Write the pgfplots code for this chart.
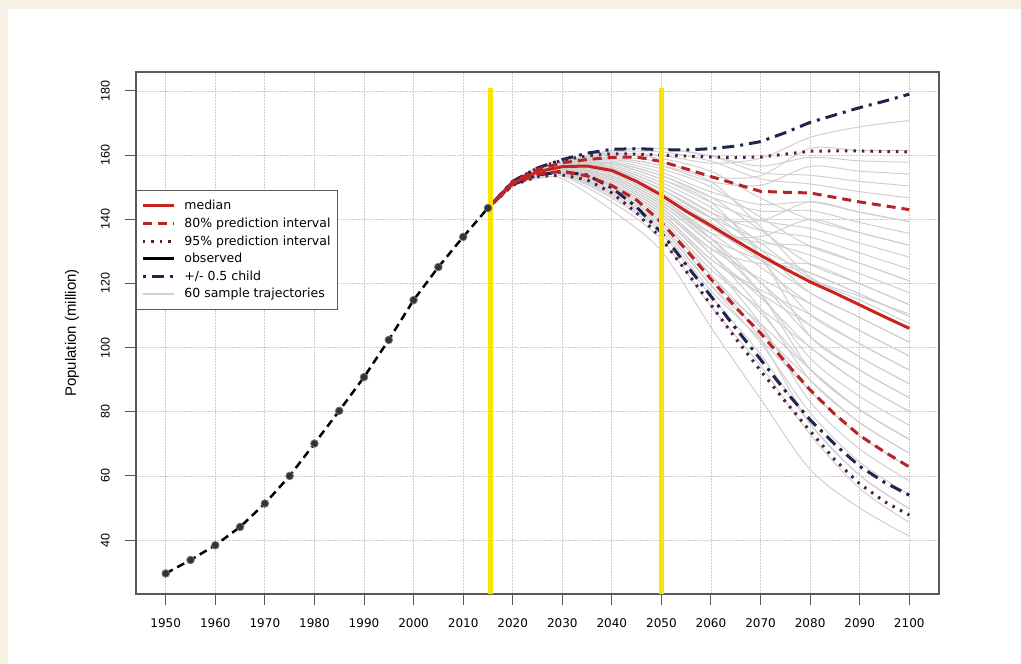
\documentclass[border=0pt]{standalone}
\usepackage{fontspec}
\setmainfont{DejaVu Sans}
\newfontfamily\arialfont{Liberation Sans}
\usepackage{pgfplots}
\pgfplotsset{compat=1.18}
\definecolor{cream}{RGB}{246,241,226}
\definecolor{medred}{RGB}{200,35,30}
\definecolor{dashred}{RGB}{185,35,40}
\definecolor{dotpurple}{RGB}{85,30,70}
\definecolor{navyc}{RGB}{35,35,80}
\definecolor{trajgray}{RGB}{208,208,208}
\definecolor{yel}{RGB}{248,228,0}
\definecolor{framegray}{RGB}{90,90,90}
\begin{document}
\begin{tikzpicture}[x=1pt,y=1pt]
\fill[cream] (0,0) rectangle (1021,664);
\fill[white] (8,0) rectangle (1021,655);
\begin{axis}[
  at={(136pt,70pt)}, anchor=south west,
  scale only axis, width=803pt, height=522pt,
  xmin=1944, xmax=2106, ymin=23.2, ymax=185.9,
  xtick={1950,1960,...,2100}, ytick={40,60,...,180},
  tick pos=left, tick align=outside, major tick length=11pt,
  every tick/.style={framegray, line width=1pt},
  axis line style={framegray, line width=1.3pt},
  grid=major,
  major grid style={draw=black!20, line width=0.8pt, dash pattern=on 1.5pt off 1.5pt},
  /pgf/number format/assume math mode=true,
  xticklabel shift=13pt,
  yticklabel shift=15pt,
  xticklabel style={/pgf/number format/1000 sep={}, font=\fontsize{12}{14}\selectfont, anchor=north, inner sep=0pt},
  yticklabel style={font=\arialfont\fontsize{12.5}{14}\selectfont, rotate=90, anchor=south, inner sep=0pt},
  ylabel={Population (million)},
  ylabel style={at={(axis description cs:-0.0797,0.5)}, anchor=center, font=\arialfont\fontsize{15}{17}\selectfont},
  legend cell align=left,
  legend image code/.code={\draw[#1] (0pt,0pt) -- (31pt,0pt);},
  legend style={at={(0,0.774)}, anchor=north west, draw=framegray, line width=0.8pt, fill=white,
    font=\fontsize{12.5}{14}\selectfont, inner xsep=5pt, inner ysep=8pt, row sep=2.6pt, column sep=7pt},
]
% legend
\addlegendimage{medred, line width=3pt}
\addlegendentry{median}
\addlegendimage{dashred, line width=3pt, dash pattern=on 9pt off 6pt}
\addlegendentry{80\% prediction interval}
\addlegendimage{dotpurple, line width=3pt, dash pattern=on 2.5pt off 6pt}
\addlegendentry{95\% prediction interval}
\addlegendimage{black, line width=3pt}
\addlegendentry{observed}
\addlegendimage{navyc, line width=3pt, dash pattern=on 3pt off 6pt on 12pt off 6pt}
\addlegendentry{+/- 0.5 child}
\addlegendimage{trajgray, line width=2pt}
\addlegendentry{60 sample trajectories}

% sample trajectories
\pgfplotsset{traj/.style={trajgray, line width=1pt, smooth, forget plot}}
\addplot[traj] coordinates {(2015,143.5)(2020,151.9)(2025,155.4)(2030,157.8)(2040,160.4)(2050,159.9)(2060,157.5)(2070,159.0)(2080,165.5)(2090,168.8)(2100,170.8)};
\addplot[traj] coordinates {(2015,143.5)(2020,152.0)(2025,155.5)(2030,157.8)(2040,160.9)(2050,161.0)(2060,158.1)(2070,152.6)(2080,151.0)(2090,148.6)(2100,146.7)};
\addplot[traj] coordinates {(2015,143.5)(2020,151.7)(2025,155.2)(2030,157.4)(2040,159.0)(2050,156.7)(2060,151.7)(2070,150.6)(2080,156.5)(2090,155.0)(2100,154.1)};
\addplot[traj] coordinates {(2015,143.5)(2020,151.8)(2025,155.4)(2030,157.6)(2040,160.0)(2050,158.9)(2060,154.9)(2070,146.6)(2080,139.9)(2090,135.8)(2100,131.9)};
\addplot[traj] coordinates {(2015,143.5)(2020,151.7)(2025,155.1)(2030,157.2)(2040,158.1)(2050,154.6)(2060,148.5)(2070,144.6)(2080,145.4)(2090,142.2)(2100,139.3)};
\addplot[traj] coordinates {(2015,143.5)(2020,151.6)(2025,154.9)(2030,157.0)(2040,157.2)(2050,152.5)(2060,145.3)(2070,139.6)(2080,137.1)(2090,132.6)(2100,128.2)};
\addplot[traj] coordinates {(2015,143.5)(2020,151.7)(2025,155.1)(2030,157.3)(2040,158.6)(2050,155.7)(2060,150.1)(2070,140.6)(2080,131.6)(2090,126.3)(2100,120.8)};
\addplot[traj] coordinates {(2015,143.5)(2020,151.5)(2025,154.7)(2030,156.8)(2040,156.2)(2050,150.4)(2060,142.1)(2070,136.6)(2080,134.4)(2090,129.5)(2100,124.5)};
\addplot[traj] coordinates {(2015,143.5)(2020,151.6)(2025,155.0)(2030,157.1)(2040,157.6)(2050,153.6)(2060,146.9)(2070,136.6)(2080,126.0)(2090,119.9)(2100,113.4)};
\addplot[traj] coordinates {(2015,143.5)(2020,151.4)(2025,154.7)(2030,156.7)(2040,155.7)(2050,149.3)(2060,140.5)(2070,133.6)(2080,128.8)(2090,123.1)(2100,117.1)};
\addplot[traj] coordinates {(2015,143.5)(2020,151.5)(2025,154.8)(2030,156.9)(2040,156.7)(2050,151.4)(2060,143.7)(2070,132.6)(2080,121.5)(2090,114.8)(2100,107.5)};
\addplot[traj] coordinates {(2015,143.5)(2020,151.4)(2025,154.6)(2030,156.6)(2040,155.3)(2050,148.3)(2060,138.9)(2070,130.6)(2080,123.3)(2090,116.7)(2100,109.7)};
\addplot[traj] coordinates {(2015,143.5)(2020,151.3)(2025,154.5)(2030,156.5)(2040,154.8)(2050,147.2)(2060,137.3)(2070,127.4)(2080,117.1)(2090,109.4)(2100,101.7)};
\addplot[traj] coordinates {(2015,143.5)(2020,151.2)(2025,154.3)(2030,156.1)(2040,153.5)(2050,145.4)(2060,134.0)(2070,127.4)(2080,123.3)(2090,116.7)(2100,109.7)};
\addplot[traj] coordinates {(2015,143.5)(2020,151.4)(2025,154.7)(2030,156.7)(2040,155.7)(2050,149.3)(2060,140.5)(2070,127.4)(2080,110.3)(2090,101.2)(2100,93.0)};
\addplot[traj] coordinates {(2015,143.5)(2020,151.3)(2025,154.4)(2030,156.3)(2040,154.2)(2050,146.3)(2060,135.7)(2070,125.1)(2080,113.7)(2090,105.3)(2100,97.4)};
\addplot[traj] coordinates {(2015,143.5)(2020,151.2)(2025,154.2)(2030,155.9)(2040,152.9)(2050,144.5)(2060,132.4)(2070,120.3)(2080,106.9)(2090,97.1)(2100,88.7)};
\addplot[traj] coordinates {(2015,143.5)(2020,151.1)(2025,154.1)(2030,155.7)(2040,152.3)(2050,143.6)(2060,130.8)(2070,121.5)(2080,113.7)(2090,105.3)(2100,97.4)};
\addplot[traj] coordinates {(2015,143.5)(2020,151.2)(2025,154.3)(2030,156.1)(2040,153.5)(2050,145.4)(2060,134.0)(2070,120.3)(2080,103.5)(2090,93.0)(2100,84.4)};
\addplot[traj] coordinates {(2015,143.5)(2020,151.1)(2025,154.0)(2030,155.5)(2040,151.7)(2050,142.7)(2060,129.2)(2070,115.6)(2080,100.1)(2090,88.9)(2100,80.1)};
\addplot[traj] coordinates {(2015,143.5)(2020,151.0)(2025,153.9)(2030,155.3)(2040,151.0)(2050,141.8)(2060,127.5)(2070,116.8)(2080,106.9)(2090,97.1)(2100,88.7)};
\addplot[traj] coordinates {(2015,143.5)(2020,151.2)(2025,154.2)(2030,155.9)(2040,152.9)(2050,144.5)(2060,132.4)(2070,116.8)(2080,96.7)(2090,84.8)(2100,75.8)};
\addplot[traj] coordinates {(2015,143.5)(2020,151.0)(2025,153.8)(2030,155.1)(2040,150.4)(2050,140.9)(2060,125.9)(2070,110.9)(2080,93.3)(2090,80.7)(2100,71.4)};
\addplot[traj] coordinates {(2015,143.5)(2020,150.9)(2025,153.7)(2030,154.9)(2040,149.8)(2050,140.0)(2060,124.3)(2070,112.1)(2080,100.1)(2090,88.9)(2100,80.1)};
\addplot[traj] coordinates {(2015,143.5)(2020,151.1)(2025,154.0)(2030,155.5)(2040,151.7)(2050,142.7)(2060,129.2)(2070,112.1)(2080,89.9)(2090,76.6)(2100,67.1)};
\addplot[traj] coordinates {(2015,143.5)(2020,150.9)(2025,153.6)(2030,154.7)(2040,149.1)(2050,139.1)(2060,122.6)(2070,106.2)(2080,86.5)(2090,72.5)(2100,62.8)};
\addplot[traj] coordinates {(2015,143.5)(2020,150.8)(2025,153.5)(2030,154.5)(2040,148.5)(2050,138.2)(2060,121.0)(2070,107.4)(2080,93.3)(2090,80.7)(2100,71.4)};
\addplot[traj] coordinates {(2015,143.5)(2020,151.0)(2025,153.8)(2030,155.1)(2040,150.4)(2050,140.9)(2060,125.9)(2070,107.4)(2080,83.1)(2090,68.4)(2100,58.5)};
\addplot[traj] coordinates {(2015,143.5)(2020,150.8)(2025,153.4)(2030,154.3)(2040,147.9)(2050,137.3)(2060,119.4)(2070,101.5)(2080,79.7)(2090,64.3)(2100,54.2)};
\addplot[traj] coordinates {(2015,143.5)(2020,150.7)(2025,153.3)(2030,154.1)(2040,147.2)(2050,136.4)(2060,117.7)(2070,102.6)(2080,86.5)(2090,72.5)(2100,62.8)};
\addplot[traj] coordinates {(2015,143.5)(2020,150.7)(2025,153.2)(2030,153.9)(2040,146.6)(2050,135.5)(2060,116.1)(2070,97.9)(2080,76.3)(2090,60.2)(2100,49.8)};
\addplot[traj] coordinates {(2015,143.5)(2020,150.6)(2025,153.0)(2030,153.5)(2040,145.4)(2050,133.7)(2060,112.8)(2070,94.4)(2080,72.9)(2090,56.1)(2100,45.5)};
\addplot[traj] coordinates {(2015,143.5)(2020,150.4)(2025,152.6)(2030,152.7)(2040,142.8)(2050,130.1)(2060,106.3)(2070,84.0)(2080,62.0)(2090,50.0)(2100,41.2)};
\addplot[traj] coordinates {(2015,143.5)(2020,151.8)(2025,155.3)(2030,157.5)(2040,159.5)(2050,157.8)(2060,153.3)(2070,153.6)(2080,162.1)(2090,161.4)(2100,161.5)};
\addplot[traj] coordinates {(2015,143.5)(2020,152.0)(2025,155.6)(2030,157.9)(2040,161.4)(2050,162.0)(2060,159.7)(2070,156.6)(2080,159.3)(2090,158.2)(2100,157.8)};
\addplot[traj] coordinates {(2015,143.5)(2020,151.3)(2025,154.5)(2030,156.5)(2040,154.8)(2050,147.2)(2060,137.3)(2070,132.6)(2080,131.6)(2090,126.3)(2100,120.8)};
\addplot[traj] coordinates {(2015,143.5)(2020,151.3)(2025,154.4)(2030,156.3)(2040,154.2)(2050,146.3)(2060,135.7)(2070,134.6)(2080,139.9)(2090,135.8)(2100,131.9)};
\addplot[traj] coordinates {(2015,143.5)(2020,151.6)(2025,154.9)(2030,157.0)(2040,157.2)(2050,152.5)(2060,145.3)(2070,128.6)(2080,103.5)(2090,93.0)(2100,84.4)};
\addplot[traj] coordinates {(2015,143.5)(2020,151.1)(2025,154.1)(2030,155.7)(2040,152.3)(2050,143.6)(2060,130.8)(2070,126.2)(2080,126.0)(2090,119.9)(2100,113.4)};
\addplot[traj] coordinates {(2015,143.5)(2020,151.7)(2025,155.2)(2030,157.4)(2040,159.0)(2050,156.7)(2060,151.7)(2070,137.6)(2080,122.0)(2090,116.0)(2100,110.5)};
\addplot[traj] coordinates {(2015,143.5)(2020,152.0)(2025,155.6)(2030,157.9)(2040,161.4)(2050,162.0)(2060,159.7)(2070,154.6)(2080,153.7)(2090,151.8)(2100,150.4)};
\addplot[traj] coordinates {(2015,143.5)(2020,151.6)(2025,155.0)(2030,157.1)(2040,157.6)(2050,153.6)(2060,146.9)(2070,142.6)(2080,142.7)(2090,139.0)(2100,135.6)};
\addplot[traj] coordinates {(2015,143.5)(2020,151.0)(2025,153.9)(2030,155.3)(2040,151.0)(2050,141.8)(2060,127.5)(2070,118.0)(2080,110.3)(2090,101.2)(2100,93.0)};
\addplot[traj] coordinates {(2015,143.5)(2020,150.9)(2025,153.6)(2030,154.7)(2040,149.1)(2050,139.1)(2060,122.6)(2070,102.6)(2080,76.3)(2090,60.2)(2100,49.8)};
\addplot[traj] coordinates {(2015,143.5)(2020,150.8)(2025,153.4)(2030,154.3)(2040,147.9)(2050,137.3)(2060,119.4)(2070,105.0)(2080,89.9)(2090,76.6)(2100,67.1)};
\addplot[traj] coordinates {(2015,143.5)(2020,151.4)(2025,154.7)(2030,156.7)(2040,155.7)(2050,149.3)(2060,140.5)(2070,139.6)(2080,145.4)(2090,142.2)(2100,139.3)};
\addplot[traj] coordinates {(2015,143.5)(2020,151.2)(2025,154.3)(2030,156.1)(2040,153.5)(2050,145.4)(2060,134.0)(2070,116.8)(2080,93.3)(2090,80.7)(2100,71.4)};
\addplot[traj] coordinates {(2015,143.5)(2020,151.5)(2025,154.7)(2030,156.8)(2040,156.2)(2050,150.4)(2060,142.1)(2070,130.6)(2080,117.1)(2090,109.4)(2100,101.7)};

% prediction bands
\addplot[forget plot, navyc, line width=3pt, dash pattern=on 3pt off 6pt on 12pt off 6pt] coordinates {
(2015,143.5)(2020,151.8)(2025,156.0)(2030,158.6)(2035,160.6)(2040,161.8)(2045,162.0)(2050,161.7)(2055,161.6)(2060,162.0)(2065,162.8)(2070,164.2)(2075,167.0)(2080,170.2)(2085,172.5)(2090,174.8)(2095,176.8)(2100,179.0)};
\addplot[forget plot, navyc, line width=3pt, dash pattern=on 3pt off 6pt on 12pt off 6pt] coordinates {
(2015,143.5)(2020,150.8)(2025,153.8)(2030,154.8)(2035,153.8)(2040,149.8)(2045,143.8)(2050,135.8)(2055,125.8)(2060,116.0)(2065,106.0)(2070,96.3)(2075,86.5)(2080,77.5)(2085,69.8)(2090,63.0)(2095,58.0)(2100,54.0)};
\addplot[forget plot, dotpurple, line width=3pt, dash pattern=on 2.5pt off 6pt] coordinates {
(2015,143.5)(2020,151.8)(2025,156.0)(2030,158.4)(2035,159.8)(2040,160.4)(2045,160.3)(2050,160.0)(2055,159.7)(2060,159.4)(2065,159.2)(2070,159.4)(2075,160.3)(2080,161.2)(2085,161.3)(2090,161.3)(2095,161.1)(2100,161.0)};
\addplot[forget plot, dotpurple, line width=3pt, dash pattern=on 2.5pt off 6pt] coordinates {
(2015,143.5)(2020,150.6)(2025,153.3)(2030,153.8)(2035,152.3)(2040,148.2)(2045,142.0)(2050,134.0)(2055,123.8)(2060,113.3)(2065,102.8)(2070,92.8)(2075,83.2)(2080,74.0)(2085,65.0)(2090,57.5)(2095,52.0)(2100,47.8)};
\addplot[forget plot, dashred, line width=3pt, dash pattern=on 9pt off 6pt] coordinates {
(2015,143.5)(2020,151.6)(2025,155.5)(2030,157.6)(2035,158.6)(2040,159.3)(2045,159.4)(2050,158.0)(2055,155.7)(2060,153.3)(2065,151.0)(2070,148.7)(2075,148.4)(2080,148.2)(2085,146.8)(2090,145.4)(2095,144.2)(2100,143.0)};
\addplot[forget plot, dashred, line width=3pt, dash pattern=on 9pt off 6pt] coordinates {
(2015,143.5)(2020,151.0)(2025,154.0)(2030,155.0)(2035,153.5)(2040,150.5)(2045,146.0)(2050,139.0)(2055,130.5)(2060,121.3)(2065,112.5)(2070,104.5)(2075,95.5)(2080,86.8)(2085,79.2)(2090,72.6)(2095,67.5)(2100,62.8)};
\addplot[forget plot, medred, line width=3pt] coordinates {
(2015,143.5)(2020,151.3)(2025,154.8)(2030,156.4)(2035,156.6)(2040,155.2)(2045,151.8)(2050,147.5)(2055,142.5)(2060,138.0)(2065,133.3)(2070,128.8)(2075,124.5)(2080,120.5)(2085,117.0)(2090,113.3)(2095,109.6)(2100,106.0)};

% yellow reference lines
\addplot[forget plot, yel, line width=5pt] coordinates {(2015.6,23.2)(2015.6,181)};
\addplot[forget plot, yel, line width=5pt] coordinates {(2050,23.2)(2050,181)};

% observed
\addplot[forget plot, black, line width=2.5pt, dash pattern=on 8pt off 5pt, mark=*, mark size=3.8pt,
  mark options={solid, fill=black!80, draw=black!55, line width=0.8pt}] coordinates {
(1950,29.6)(1955,33.8)(1960,38.4)(1965,44.1)(1970,51.4)(1975,60.0)(1980,70.1)(1985,80.3)(1990,90.8)(1995,102.4)(2000,114.8)(2005,125.1)(2010,134.5)(2015,143.5)};
\end{axis}
\end{tikzpicture}
\end{document}
